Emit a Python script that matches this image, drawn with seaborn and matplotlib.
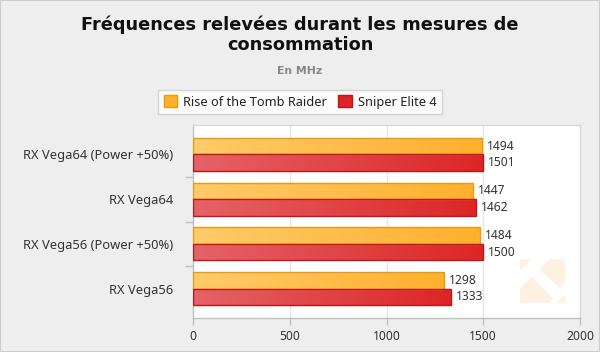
import numpy as np
import pandas as pd
import matplotlib
matplotlib.use("Agg")
import matplotlib.pyplot as plt
import seaborn as sns
from matplotlib.colors import LinearSegmentedColormap
from matplotlib.patches import Rectangle, Polygon, Patch

categories = ["RX Vega64 (Power +50%)", "RX Vega64", "RX Vega56 (Power +50%)", "RX Vega56"]
series_names = ["Rise of the Tomb Raider", "Sniper Elite 4"]
tomb_raider = [1494, 1447, 1484, 1298]
sniper_elite = [1501, 1462, 1500, 1333]
x_ticks = [0, 500, 1000, 1500, 2000]
title = "Fréquences relevées durant les mesures de\nconsommation"
subtitle = "En MHz"

df = pd.DataFrame({
    "cat": categories * 2,
    "serie": [series_names[0]] * 4 + [series_names[1]] * 4,
    "val": tomb_raider + sniper_elite,
})

sns.set_theme(style="white")
plt.rcParams["font.family"] = ["Noto Sans", "DejaVu Sans"]

W, H = 600, 352
fig = plt.figure(figsize=(6, 3.52), dpi=100, facecolor="#eeeeee")
fig.patches.append(Rectangle((0, 0), 1, 1, transform=fig.transFigure, fill=False,
                             edgecolor="#cccccc", linewidth=1.5))
ax = fig.add_axes([193 / W, 34 / H, 387 / W, 193 / H])
ax.set_facecolor("white")

solid = {series_names[0]: "#ffb733", series_names[1]: "#dd2a2a"}
edges = {series_names[0]: "#e89a10", series_names[1]: "#c0141a"}
grads = {series_names[0]: ("#ffcb6a", "#ffb02e"), series_names[1]: ("#e56367", "#dc2626")}

sns.barplot(data=df, y="cat", x="val", hue="serie", orient="h", ax=ax,
            palette=solid, width=0.74, saturation=1, legend=False, zorder=3)

bars = [p for p in ax.patches if p.get_height() > 0]
n = len(categories)
for i, p in enumerate(bars):
    s = series_names[i // n]
    cmap = LinearSegmentedColormap.from_list("g", grads[s])
    x0, y0 = p.get_x(), p.get_y()
    w, h = p.get_width(), p.get_height()
    grad = np.linspace(0, 1, 256).reshape(1, -1)
    im = ax.imshow(grad, cmap=cmap, aspect="auto", extent=(x0, x0 + w, y0 + h, y0),
                   zorder=3.5, interpolation="bilinear")
    im.set_clip_path(p)
    p.set_facecolor("none")
    p.set_edgecolor(edges[s])
    p.set_linewidth(1.0)
    p.set_zorder(4)
    val = tomb_raider[i % n] if i < n else sniper_elite[i % n]
    ax.text(x0 + w + 25, y0 + h / 2, f"{val}", va="center", ha="left",
            fontsize=8.7, color="#333333", zorder=5)

ax.set_xlim(0, 2000)
ax.set_ylim(n - 0.5 + 0.157, -0.5 - 0.157)
ax.set_xticks(x_ticks)
ax.set_xticklabels([str(t) for t in x_ticks], fontsize=8.7, color="#333333")
ax.xaxis.grid(True, color="#e6e6e6", linewidth=1, zorder=0)
ax.set_axisbelow(True)
ax.tick_params(axis="x", length=5, width=1, color="#c0c0c0", pad=4, bottom=True)
ax.set_yticks(range(n))
ax.set_yticklabels(categories, fontsize=9.3, color="#333333")
ax.tick_params(axis="y", length=0, pad=14.5)
ax.set_yticks([0.5, 1.5, 2.5], minor=True)
ax.tick_params(axis="y", which="minor", length=6, width=1, color="#c0c0c0", left=True)
ax.set_xlabel("")
ax.set_ylabel("")
for side in ["left", "bottom"]:
    ax.spines[side].set_color("#c0c0c0")
    ax.spines[side].set_linewidth(1)
for side in ["top", "right"]:
    ax.spines[side].set_color("#d8d8d8")
    ax.spines[side].set_linewidth(1)

# faint watermark logo (decoration)
def zpt(zx, zy):
    return ((510 + zx / 3) / W, 1 - (250 + zy / 3) / H)
logo_parts = [
    [(30, 28), (65, 28), (30, 62)],
    [(118, 28), (165, 28), (165, 100), (150, 114), (88, 58)],
    [(30, 115), (65, 80), (130, 145), (117, 158), (30, 158)],
    [(140, 158), (165, 133), (165, 158)],
]
for part in logo_parts:
    ax.add_patch(Polygon([zpt(*q) for q in part], closed=True, transform=fig.transFigure,
                         facecolor="#fdf1e2", edgecolor="none", zorder=1))

# legend
handles = [Patch(facecolor=grads[s][1], edgecolor=edges[s], label=s) for s in series_names]
leg = fig.legend(handles=handles, loc="center", bbox_to_anchor=(300 / W, 1 - 102 / H),
                 ncol=2, frameon=True, fontsize=9.2, handlelength=1.05, handleheight=1.05,
                 handletextpad=0.45, columnspacing=0.9, borderpad=0.45, fancybox=False)
leg.get_frame().set_edgecolor("#cccccc")
leg.get_frame().set_facecolor("white")
for t in leg.get_texts():
    t.set_color("#222222")

fig.text(0.5, 1 - 34.5 / H, title, ha="center", va="center", fontsize=12.8,
         fontweight="bold", color="#111111", linespacing=1.12, family=["DejaVu Sans"])
fig.text(0.5, 1 - 71 / H, subtitle, ha="center", va="center", fontsize=7.8,
         fontweight="bold", color="#888888", family=["DejaVu Sans"])

fig.savefig("out.png", dpi=100, facecolor=fig.get_facecolor())
